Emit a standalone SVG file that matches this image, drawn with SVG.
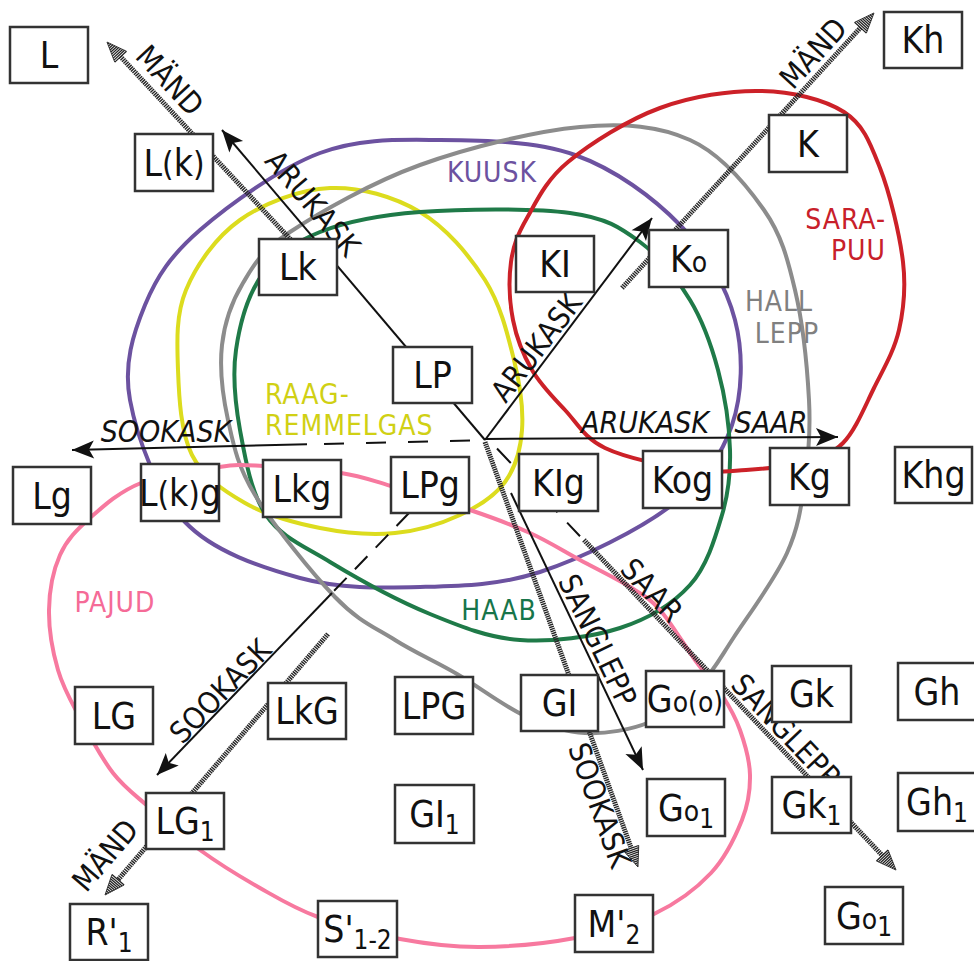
<svg xmlns="http://www.w3.org/2000/svg" width="974" height="961" viewBox="0 0 974 961">
<style>
text{font-family:"DejaVu Sans Condensed","DejaVu Sans",sans-serif;font-stretch:condensed}
.bx rect{fill:#fff;stroke:#333;stroke-width:2.5}
.bx text{font-size:37px;text-anchor:middle;fill:#111}
.s{font-size:28px}
.p{font-size:33px}
.sub{font-size:26px}
.lbl{font-size:30px;fill:#111;text-anchor:middle}
.it{font-style:italic}
.cat{font-size:28px;letter-spacing:1px}
.curve{fill:none;stroke-width:4}
.thin{stroke:#111;stroke-width:2;fill:none}
.hatch{stroke:#262626;stroke-width:5;stroke-dasharray:1.4 0.8;fill:none}
</style>
<defs>
<marker id="ah" markerUnits="userSpaceOnUse" viewBox="-24 -12 26 24" markerWidth="26" markerHeight="24" refX="0" refY="0" orient="auto">
<path d="M0,0 L-22,-9 L-17,0 L-22,9 Z" fill="#111"/>
</marker>
<marker id="hh" markerUnits="userSpaceOnUse" viewBox="-2 -11 26 22" markerWidth="26" markerHeight="22" refX="0" refY="0" orient="auto">
<path d="M0,-8V8M2,-7.2V7.2M4,-6.4V6.4M6,-5.6V5.6M8,-4.8V4.8M10,-4V4M12,-3.2V3.2M14,-2.4V2.4M16,-1.6V1.6M18,-0.8V0.8" stroke="#222" stroke-width="1.3"/>
<path d="M0,-8L20,0L0,8" fill="none" stroke="#222" stroke-width="0.8"/>
</marker>
</defs>
<rect width="974" height="961" fill="#fff"/>

<g id="regions">
<path id="kuusk" class="curve" stroke="#6c52a0" d="M440,140 C482.5,140.3 535,140.8 575,155 C615,169.2 653.3,197.5 680,225 C706.7,252.5 726.3,286.7 735,320 C743.7,353.3 742.5,394.2 732,425 C721.5,455.8 704,480.5 672,505 C640,529.5 582,558.3 540,572 C498,585.7 460,586 420,587 C380,588 339.2,588.8 300,578 C260.8,567.2 213.3,551.7 185,522 C156.7,492.3 136.7,436.2 130,400 C123.3,363.8 133.3,333.3 145,305 C156.7,276.7 170.8,255.3 200,230 C229.2,204.7 280,168 320,153 C360,138 397.5,139.7 440,140 Z"/>
<path id="raag" class="curve" stroke="#dcdc1e" d="M330,188 C360,186.7 394.2,196.7 420,212 C445.8,227.3 469.3,255.3 485,280 C500.7,304.7 507.8,335 514,360 C520.2,385 523.5,409.7 522,430 C520.5,450.3 515.3,467.8 505,482 C494.7,496.2 478.3,506.5 460,515 C441.7,523.5 418.3,530.8 395,533 C371.7,535.2 345,533 320,528 C295,523 266.3,515.2 245,503 C223.7,490.8 203.2,477.2 192,455 C180.8,432.8 179,397.5 178,370 C177,342.5 175.7,315 186,290 C196.3,265 216,237 240,220 C264,203 300,189.3 330,188 Z"/>
<path id="haab" class="curve" stroke="#1f7a48" d="M420,212 C461.7,208.8 533.3,208 570,213 C606.7,218 620,227.5 640,242 C660,256.5 677,278.7 690,300 C703,321.3 711.3,345 718,370 C724.7,395 729.3,425.8 730,450 C730.7,474.2 728.7,492.5 722,515 C715.3,537.5 707,566.2 690,585 C673,603.8 648.3,618.8 620,628 C591.7,637.2 551.7,642.3 520,640 C488.3,637.7 461.7,627 430,614 C398.3,601 357.3,578.5 330,562 C302.7,545.5 281,537 266,515 C251,493 245,457.5 240,430 C235,402.5 232.3,375.8 236,350 C239.7,324.2 248,294.7 262,275 C276,255.3 293.7,242.5 320,232 C346.3,221.5 378.3,215.2 420,212 Z"/>
<path id="hall" class="curve" stroke="#8c8c8c" d="M580,127 C625,122.8 659.3,126.2 690,140 C720.7,153.8 746.5,185 764,210 C781.5,235 787.5,258.3 795,290 C802.5,321.7 807.3,368.3 809,400 C810.7,431.7 808.7,454.5 805,480 C801.3,505.5 798.8,526.8 787,553 C775.2,579.2 748.5,615 734,637 C719.5,659 714,670.8 700,685 C686,699.2 669.2,714 650,722 C630.8,730 605.8,734 585,733 C564.2,732 546.3,725.8 525,716 C503.7,706.2 478.7,686.7 457,674 C435.3,661.3 415.3,652.8 395,640 C374.7,627.2 358.3,621.2 335,597 C311.7,572.8 272.8,524.5 255,495 C237.2,465.5 233.5,445 228,420 C222.5,395 219.5,367.8 222,345 C224.5,322.2 231.7,301.8 243,283 C254.3,264.2 260.5,251.7 290,232 C319.5,212.3 371.7,182.5 420,165 C468.3,147.5 535,131.2 580,127 Z"/>
<path id="sara" class="curve" stroke="#cc2128" d="M761,91 C791.7,91.7 824.2,99.2 844,112 C863.8,124.8 870.2,143 880,168 C889.8,193 899.8,235 903,262 C906.2,289 903.8,309 899,330 C894.2,351 883.3,369.2 874,388 C864.7,406.8 855.3,430.5 843,443 C830.7,455.5 816.2,458.5 800,463 C783.8,467.5 764.3,468.8 746,470 C727.7,471.2 713.5,473.7 690,470 C666.5,466.3 625.8,458 605,448 C584.2,438 577.2,423 565,410 C552.8,397 540.7,385 532,370 C523.3,355 516.5,338 513,320 C509.5,302 508.7,279 511,262 C513.3,245 517.5,234.7 527,218 C536.5,201.3 545.8,180.3 568,162 C590.2,143.7 627.8,119.8 660,108 C692.2,96.2 730.3,90.3 761,91 Z"/>
<path id="pajud" class="curve" stroke="#f7799f" d="M695,660 C684.7,645.8 670.8,622.2 660,610 S643.3,595.3 630,587 S596.7,569 580,560 S548.3,541.3 530,533 S493.2,517.8 470,510 S412.5,492.2 391,486 S362.3,476.3 341,473 S283.3,467 263,466 S239.3,464.2 219,467 S162.5,474.5 141,483 S103.5,506 90,518 S66.8,539.7 60,555 S49.3,590.8 49,610 S52.8,652 58,670 S70.8,700.8 80,718 S101.3,758 113,773 S135.5,795.2 150,808 S181.7,836.7 200,850 S240.3,876.8 260,888 S294.7,908.5 318,917 S373,934 400,939 S450.8,947.2 480,947 S546,943.5 575,938 S631.3,924.8 654,914 S696.3,888.7 711,873 S735.5,836.3 742,820 S750.3,790 750,775 S744.7,743.3 740,730 S729.5,706.7 722,695 S705.3,674.2 695,660 Z"/>
</g>

<g id="region-labels" class="cat">
<text x="492" y="182" fill="#6c52a0" text-anchor="middle">KUUSK</text>
<text x="265" y="404" fill="#d0d014">RAAG-</text>
<text x="265" y="435" fill="#d0d014">REMMELGAS</text>
<text x="499" y="620" fill="#17754a" text-anchor="middle">HAAB</text>
<text x="886" y="229" fill="#c8202a" text-anchor="end">SARA-</text>
<text x="886" y="260" fill="#c8202a" text-anchor="end">PUU</text>
<text x="779" y="311" fill="#808080" text-anchor="middle">HALL</text>
<text x="787" y="343" fill="#808080" text-anchor="middle">LEPP</text>
<text x="115" y="612" fill="#f56b97" text-anchor="middle">PAJUD</text>
</g>

<g id="connectors">
<path class="hatch" d="M304,254 L120.6,56.7" marker-end="url(#hh)"/>
<path class="hatch" d="M622,288 L860.5,27.7" marker-end="url(#hh)"/>
<path class="hatch" d="M485,442 L631.2,848.2" marker-end="url(#hh)"/>
<path class="hatch" d="M584,540 L882.3,855.5" marker-end="url(#hh)"/>
<path class="hatch" d="M328,634 L118,879.8" marker-end="url(#hh)"/>
<path class="thin" stroke-dasharray="20 14" d="M497,448.5 L580,536.2"/>
<path class="thin" d="M485,440 L222,130" marker-end="url(#ah)"/>
<path class="thin" d="M485,440 L652,218" marker-end="url(#ah)"/>
<path class="thin" d="M485,439 L838,437" marker-end="url(#ah)"/>
<path class="thin" stroke-dasharray="20 22" d="M470,440.4 L307,444.3"/>
<path class="thin" d="M307,444.3 L72,450" marker-end="url(#ah)"/>
<path class="thin" d="M511,493 L643,770" marker-end="url(#ah)"/>
<path class="thin" stroke-dasharray="18 12" d="M409,513 L332,593"/>
<path class="thin" d="M332,593 L157,775" marker-end="url(#ah)"/>
</g>

<g id="connector-labels" class="lbl">
<text transform="translate(170,80) rotate(47)" dy="0.36em">MÄND</text>
<text transform="translate(313,203) rotate(49.7)" dy="0.36em">ARUKASK</text>
<text transform="translate(536,347) rotate(-52.5)" dy="0.36em">ARUKASK</text>
<text transform="translate(813,53) rotate(-47.5)" dy="0.36em">MÄND</text>
<text class="it" x="166" y="442">SOOKASK</text>
<text class="it" x="645" y="433">ARUKASK</text>
<text class="it" x="771" y="433">SAAR</text>
<text transform="translate(598,640) rotate(64.4)" dy="0.36em">SANGLEPP</text>
<text transform="translate(652,590) rotate(46.6)" dy="0.36em">SAAR</text>
<text transform="translate(600,805) rotate(70.2)" dy="0.36em">SOOKASK</text>
<text transform="translate(786,730) rotate(46.6)" dy="0.36em">SANGLEPP</text>
<text transform="translate(220,691) rotate(-46)" dy="0.36em">SOOKASK</text>
<text transform="translate(105,855) rotate(-49.5)" dy="0.36em">MÄND</text>
</g>

<g id="n-L" class="bx"><rect x="10" y="27" width="78" height="56"/><text x="49" y="68">L</text></g>
<g id="n-Kh" class="bx"><rect x="884" y="12" width="78" height="56"/><text x="923" y="53">Kh</text></g>
<g id="n-L_k" class="bx"><rect x="135" y="134" width="78" height="57"/><text x="174" y="175.5">L<tspan class="p">(</tspan>k<tspan class="p">)</tspan></text></g>
<g id="n-K" class="bx"><rect x="769" y="115" width="78" height="57"/><text x="808" y="156.5">K</text></g>
<g id="n-Lk" class="bx"><rect x="259" y="239" width="78" height="56"/><text x="298" y="280">Lk</text></g>
<g id="n-KI" class="bx"><rect x="516" y="236" width="78" height="56"/><text x="555" y="277">KI</text></g>
<g id="n-Ko" class="bx"><rect x="649" y="230" width="79" height="57"/><text x="688.5" y="271.5">K<tspan class="s">o</tspan></text></g>
<g id="n-LP" class="bx"><rect x="393" y="347" width="79" height="56"/><text x="432.5" y="388">LP</text></g>
<g id="n-Lg" class="bx"><rect x="13" y="467" width="78" height="57"/><text x="52" y="508.5">Lg</text></g>
<g id="n-L_k_g" class="bx"><rect x="141" y="464" width="78" height="57"/><text x="180" y="505.5">L<tspan class="p">(</tspan>k<tspan class="p">)</tspan>g</text></g>
<g id="n-Lkg" class="bx"><rect x="263" y="460" width="78" height="57"/><text x="302" y="501.5">Lkg</text></g>
<g id="n-LPg" class="bx"><rect x="391" y="457" width="78" height="56"/><text x="430" y="498">LPg</text></g>
<g id="n-KIg" class="bx"><rect x="519" y="454" width="79" height="57"/><text x="558.5" y="495.5">KIg</text></g>
<g id="n-Kog" class="bx"><rect x="643" y="451" width="79" height="57"/><text x="682.5" y="492.5">Kog</text></g>
<g id="n-Kg" class="bx"><rect x="770" y="448" width="79" height="57"/><text x="809.5" y="489.5">Kg</text></g>
<g id="n-Khg" class="bx"><rect x="895" y="447" width="77" height="56"/><text x="933.5" y="488">Khg</text></g>
<g id="n-LG" class="bx"><rect x="75" y="687" width="78" height="57"/><text x="114" y="728.5">LG</text></g>
<g id="n-LkG" class="bx"><rect x="268" y="683" width="78" height="56"/><text x="307" y="724">LkG</text></g>
<g id="n-LPG" class="bx"><rect x="395" y="677" width="78" height="57"/><text x="434" y="718.5">LPG</text></g>
<g id="n-GI" class="bx"><rect x="521" y="675" width="77" height="56"/><text x="559.5" y="716">GI</text></g>
<g id="n-Goo" class="bx"><rect x="646" y="671" width="78" height="56"/><text x="685" y="712">G<tspan class="s">o(o)</tspan></text></g>
<g id="n-Gk" class="bx"><rect x="772" y="666" width="79" height="56"/><text x="811.5" y="707">Gk</text></g>
<g id="n-Gh" class="bx"><rect x="898" y="663" width="78" height="57"/><text x="937" y="704.5">Gh</text></g>
<g id="n-LG1" class="bx"><rect x="146" y="793" width="78" height="56"/><text x="185" y="834">LG<tspan class="sub" dy="7">1</tspan></text></g>
<g id="n-GI1" class="bx"><rect x="395" y="785" width="79" height="58"/><text x="434.5" y="827">GI<tspan class="sub" dy="7">1</tspan></text></g>
<g id="n-Go1a" class="bx"><rect x="647" y="779" width="78" height="57"/><text x="686" y="820.5">G<tspan class="s">o</tspan><tspan class="sub" dy="7">1</tspan></text></g>
<g id="n-Gk1" class="bx"><rect x="772" y="777" width="79" height="56"/><text x="811.5" y="818">Gk<tspan class="sub" dy="7">1</tspan></text></g>
<g id="n-Gh1" class="bx"><rect x="898" y="773" width="78" height="58"/><text x="937" y="815">Gh<tspan class="sub" dy="7">1</tspan></text></g>
<g id="n-R1" class="bx"><rect x="70" y="904" width="78" height="56"/><text x="109" y="945">R'<tspan class="sub" dy="7">1</tspan></text></g>
<g id="n-S12" class="bx"><rect x="318" y="901" width="79" height="56"/><text x="357.5" y="942">S'<tspan class="sub" dy="7">1-2</tspan></text></g>
<g id="n-M2" class="bx"><rect x="575" y="895" width="78" height="57"/><text x="614" y="936.5">M'<tspan class="sub" dy="7">2</tspan></text></g>
<g id="n-Go1b" class="bx"><rect x="825" y="887" width="78" height="57"/><text x="864" y="928.5">G<tspan class="s">o</tspan><tspan class="sub" dy="7">1</tspan></text></g>
</svg>
